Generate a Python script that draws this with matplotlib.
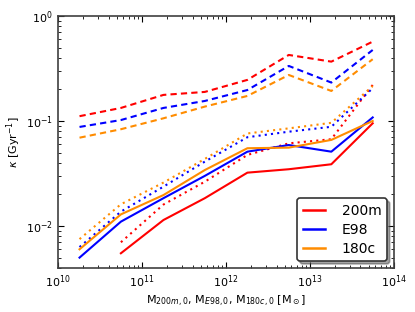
import matplotlib
matplotlib.use("Agg")
import matplotlib.pyplot as plt
import numpy as np

# halo mass bins (half-decade spacing)
mass = [1.8e10, 5.6e10, 1.8e11, 5.6e11, 1.8e12, 5.6e12, 1.8e13, 5.6e13]

# solid
k200m_solid = [np.nan, 0.0055, 0.0114, 0.0184, 0.0322, 0.0347, 0.0387, 0.095]
kE98_solid = [0.0050, 0.0110, 0.0184, 0.0300, 0.051, 0.059, 0.051, 0.108]
k180c_solid = [0.0060, 0.0129, 0.0197, 0.0341, 0.055, 0.0557, 0.066, 0.100]

# dashed
k200m_dash = [0.111, 0.133, 0.177, 0.189, 0.246, 0.425, 0.367, 0.569]
kE98_dash = [0.0877, 0.102, 0.133, 0.155, 0.197, 0.334, 0.232, 0.474]
k180c_dash = [0.0693, 0.0834, 0.106, 0.137, 0.173, 0.274, 0.193, 0.387]

# dotted
k200m_dot = [np.nan, 0.0070, 0.0160, 0.0264, 0.0475, 0.0612, 0.0670, 0.220]
kE98_dot = [0.0063, 0.0137, 0.0237, 0.041, 0.070, 0.079, 0.088, 0.205]
k180c_dot = [0.0075, 0.0161, 0.0259, 0.0435, 0.076, 0.085, 0.096, 0.215]

labels = ["200m", "E98", "180c"]
colors = ["red", "blue", "darkorange"]

fig = plt.figure(figsize=(4.15, 3.12), dpi=100)
ax = fig.add_axes([0.14, 0.141, 0.809, 0.808])

solid = [k200m_solid, kE98_solid, k180c_solid]
dash = [k200m_dash, kE98_dash, k180c_dash]
dot = [k200m_dot, kE98_dot, k180c_dot]

for i in range(3):
    ax.plot(mass, solid[i], color=colors[i], lw=1.5, label=labels[i])
    ax.plot(mass, dash[i], color=colors[i], lw=1.5, ls="--", dashes=(3, 2))
    ax.plot(mass, dot[i], color=colors[i], lw=1.5, ls=":", dashes=(1, 2))

ax.set_xscale("log")
ax.set_yscale("log")
ax.set_xlim(1e10, 1e14)
ax.set_ylim(10**-2.4, 1)

ax.tick_params(which="both", direction="in", top=True, right=True, labelsize=8, pad=4)
ax.tick_params(which="major", length=4)
ax.tick_params(which="minor", length=2)
for s in ax.spines.values():
    s.set_color("0.25")
    s.set_linewidth(1.2)

ax.set_xlabel(r"M$_{200m,0}$, M$_{E98,0}$, M$_{180c,0}$ [M$_\odot$]", fontsize=8, labelpad=3)
ax.set_ylabel(r"$\kappa$ [Gyr$^{-1}$]", fontsize=8, labelpad=2)

leg = ax.legend(loc="lower right", fontsize=10, shadow=True, fancybox=True,
                handlelength=1.6, borderpad=0.4, labelspacing=0.35, handletextpad=1.2)
leg.get_frame().set_edgecolor("0.2")
leg.get_frame().set_linewidth(1.2)
for l in leg.get_lines():
    l.set_linewidth(1.8)

fig.savefig("out.png", dpi=100)
